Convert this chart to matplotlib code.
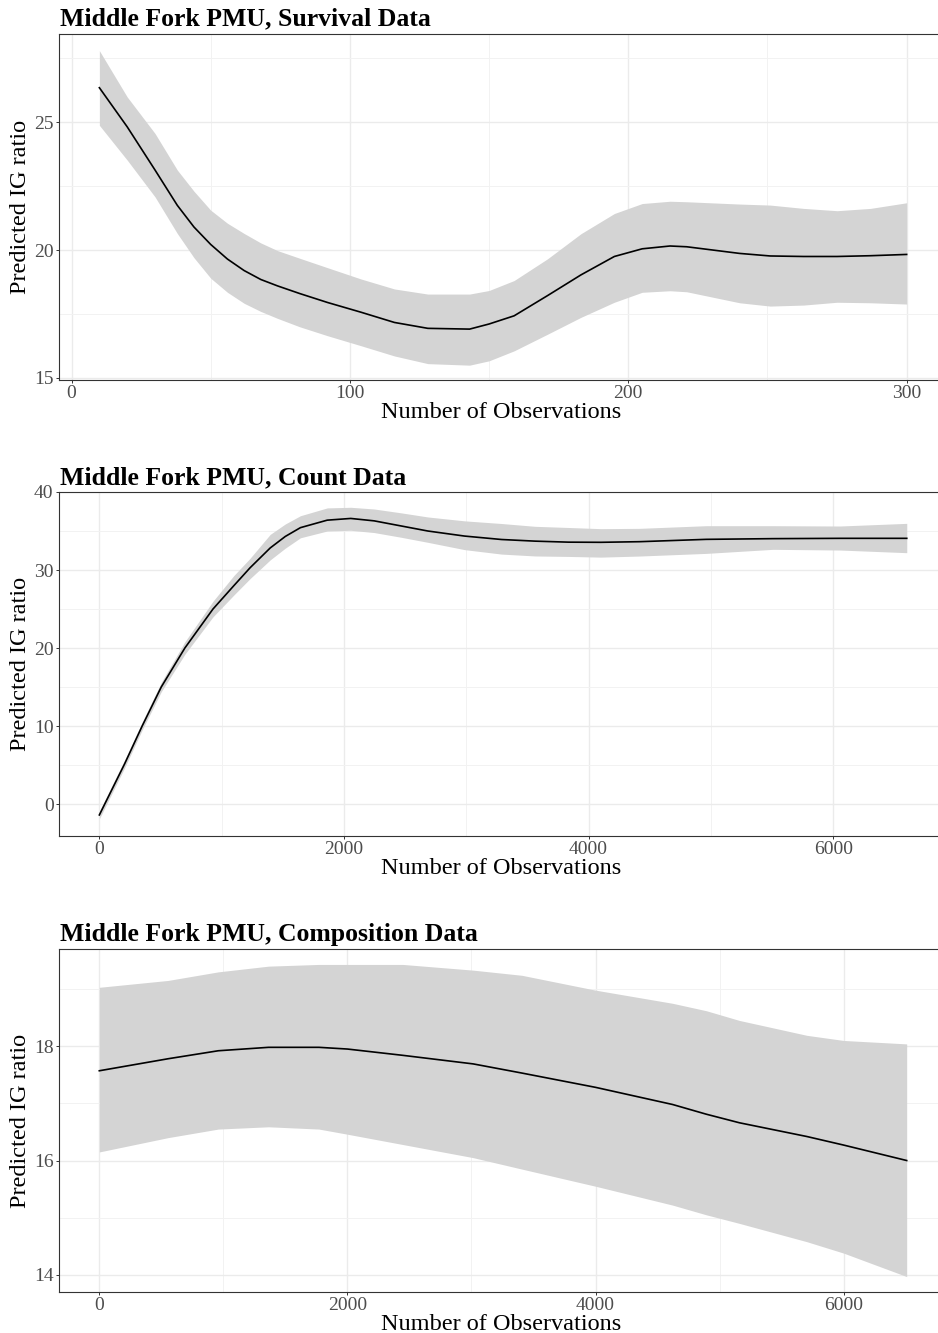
import matplotlib
matplotlib.use("Agg")
import matplotlib.pyplot as plt
from matplotlib.ticker import FixedLocator

plt.rcParams["font.family"] = ["Liberation Serif", "DejaVu Serif"]

# survival data: smooth fit with 95% band
surv_n = [10, 20, 30, 38, 44, 50, 56, 62, 68, 74, 82, 92, 104, 116, 128,
          143, 150, 159, 171, 183, 195, 205, 215, 221, 240, 251, 263, 275,
          287, 300]
surv_fit = [26.35, 24.82, 23.13, 21.75, 20.90, 20.22, 19.65, 19.20, 18.85,
            18.60, 18.30, 17.95, 17.57, 17.17, 16.94, 16.91, 17.11, 17.43,
            18.22, 19.03, 19.75, 20.05, 20.16, 20.13, 19.87, 19.77, 19.75,
            19.75, 19.78, 19.83]
surv_hi = [27.80, 25.99, 24.56, 23.13, 22.30, 21.56, 21.05, 20.65, 20.28,
           19.98, 19.68, 19.31, 18.87, 18.48, 18.28, 18.28, 18.42, 18.81,
           19.66, 20.64, 21.43, 21.82, 21.91, 21.89, 21.80, 21.76, 21.63,
           21.54, 21.63, 21.85]
surv_lo = [24.88, 23.52, 22.08, 20.65, 19.70, 18.90, 18.35, 17.92, 17.60,
           17.33, 17.00, 16.65, 16.26, 15.86, 15.56, 15.50, 15.67, 16.06,
           16.71, 17.37, 17.96, 18.35, 18.41, 18.37, 17.94, 17.81, 17.85,
           17.96, 17.94, 17.89]

# count data
count_n = [0, 205, 350, 506, 699, 929, 1100, 1233, 1397, 1520, 1644, 1863,
           2055, 2247, 2466, 2685, 2986, 3288, 3562, 3836, 4100, 4416, 4962,
           5508, 6055, 6601]
count_fit = [-1.40, 5.10, 10.00, 15.00, 20.00, 25.00, 28.00, 30.30, 32.83,
             34.30, 35.43, 36.39, 36.61, 36.30, 35.65, 35.00, 34.35, 33.91,
             33.70, 33.57, 33.55, 33.63, 33.93, 34.02, 34.06, 34.06]
count_hi = [-0.90, 5.60, 10.50, 15.60, 20.80, 26.00, 29.30, 31.52, 34.57,
            35.90, 36.96, 37.96, 38.04, 37.82, 37.33, 36.80, 36.30, 35.96,
            35.60, 35.45, 35.30, 35.34, 35.68, 35.68, 35.64, 35.98]
count_lo = [-1.90, 4.60, 9.50, 14.40, 19.20, 24.00, 26.80, 28.91, 31.30,
            32.80, 34.13, 35.00, 35.09, 34.80, 34.20, 33.55, 32.61, 32.04,
            31.80, 31.74, 31.65, 31.79, 32.13, 32.65, 32.56, 32.22]

# composition data
comp_n = [0, 554, 959, 1364, 1770, 2000, 2446, 3014, 3406, 4000, 4621, 4893,
          5160, 5703, 6000, 6508]
comp_fit = [17.57, 17.78, 17.92, 17.98, 17.98, 17.95, 17.84, 17.69, 17.53,
            17.28, 16.98, 16.81, 16.66, 16.42, 16.27, 16.00]
comp_hi = [19.03, 19.15, 19.30, 19.40, 19.43, 19.43, 19.43, 19.33, 19.24,
           18.98, 18.75, 18.62, 18.45, 18.19, 18.10, 18.04]
comp_lo = [16.15, 16.40, 16.55, 16.59, 16.55, 16.46, 16.28, 16.05, 15.85,
           15.55, 15.22, 15.05, 14.90, 14.58, 14.38, 13.97]

W, H = 938, 1333
fig = plt.figure(figsize=(W / 100, H / 100), dpi=100)
fig.patch.set_facecolor("white")

panels = [
    dict(title="Middle Fork PMU, Survival Data", x=surv_n, fit=surv_fit,
         hi=surv_hi, lo=surv_lo, top=34, bottom=380, title_y=25,
         xlim=(-4.5, 314.5), ylim=(14.92, 28.45),
         xmaj=[0, 100, 200, 300], xmin=[50, 150, 250],
         ymaj=[15, 20, 25], ymin=[17.5, 22.5, 27.5]),
    dict(title="Middle Fork PMU, Count Data", x=count_n, fit=count_fit,
         hi=count_hi, lo=count_lo, top=492, bottom=836, title_y=484,
         xlim=(-330, 6930), ylim=(-4.1, 40.0),
         xmaj=[0, 2000, 4000, 6000], xmin=[1000, 3000, 5000],
         ymaj=[0, 10, 20, 30, 40], ymin=[5, 15, 25, 35]),
    dict(title="Middle Fork PMU, Composition Data", x=comp_n, fit=comp_fit,
         hi=comp_hi, lo=comp_lo, top=949, bottom=1292, title_y=941,
         xlim=(-325, 6833), ylim=(13.70, 19.70),
         xmaj=[0, 2000, 4000, 6000], xmin=[1000, 3000, 5000],
         ymaj=[14, 16, 18], ymin=[15, 17, 19]),
]

left_px, right_px = 59, 947

for p in panels:
    ax = fig.add_axes([left_px / W, 1 - p["bottom"] / H,
                       (right_px - left_px) / W, (p["bottom"] - p["top"]) / H])
    ax.set_facecolor("white")
    ax.fill_between(p["x"], p["lo"], p["hi"], color="#D4D4D4", lw=0, zorder=2)
    ax.plot(p["x"], p["fit"], color="black", lw=1.2, zorder=3)

    ax.set_xlim(*p["xlim"])
    ax.set_ylim(*p["ylim"])
    ax.xaxis.set_major_locator(FixedLocator(p["xmaj"]))
    ax.yaxis.set_major_locator(FixedLocator(p["ymaj"]))
    ax.xaxis.set_minor_locator(FixedLocator(p["xmin"]))
    ax.yaxis.set_minor_locator(FixedLocator(p["ymin"]))
    ax.grid(True, which="major", color="#EBEBEB", lw=1.0, zorder=0)
    ax.grid(True, which="minor", color="#F2F2F2", lw=0.7, zorder=0)
    ax.set_axisbelow(True)

    ax.tick_params(which="major", length=2.4, width=0.7, color="#333333",
                   labelsize=14, labelcolor="#4D4D4D", pad=1.5)
    ax.tick_params(which="minor", length=0)
    for s in ax.spines.values():
        s.set_color("#333333")
        s.set_linewidth(0.8)

    fig.text(60 / W, 1 - p["title_y"] / H, p["title"], fontsize=18.5,
             fontweight="bold", ha="left", va="baseline")
    fig.text(501 / W, 1 - (p["bottom"] + 38) / H, "Number of Observations",
             fontsize=17.5, ha="center", va="baseline")
    fig.text(21 / W, 1 - (p["top"] + p["bottom"]) / 2 / H, "Predicted IG ratio",
             fontsize=17.5, rotation=90, ha="center", va="center")

fig.savefig("out.png", dpi=100, facecolor="white")
